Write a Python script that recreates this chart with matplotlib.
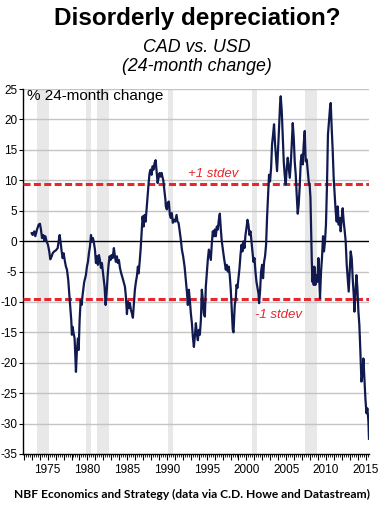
import matplotlib
matplotlib.use("Agg")
import matplotlib.pyplot as plt
from matplotlib.ticker import MultipleLocator, FuncFormatter

plt.rcParams['axes.unicode_minus'] = False

# ---- data ----
years = [
    1972.99, 1973.12, 1973.32, 1973.45, 1973.66, 1973.87, 1974.03, 1974.16, 1974.29, 1974.45,
    1974.58, 1974.70, 1974.88, 1975.04, 1975.20, 1975.33, 1975.51, 1975.63, 1975.83, 1976.05,
    1976.26, 1976.38, 1976.51, 1976.64, 1976.76, 1976.89, 1977.01, 1977.18, 1977.30, 1977.43,
    1977.59, 1977.71, 1977.84, 1977.97, 1978.05, 1978.14, 1978.27, 1978.39, 1978.56, 1978.68,
    1978.81, 1978.90, 1979.02, 1979.15, 1979.27, 1979.40, 1979.60, 1979.81, 1979.94, 1980.07,
    1980.19, 1980.32, 1980.45, 1980.57, 1980.70,
    1980.82, 1980.95, 1981.07, 1981.20, 1981.32, 1981.45, 1981.57, 1981.70, 1981.82, 1981.99,
    1982.16, 1982.29, 1982.41, 1982.54, 1982.66, 1982.79, 1982.92, 1983.04, 1983.17, 1983.33,
    1983.46, 1983.58, 1983.71, 1983.83, 1983.96, 1984.09, 1984.25, 1984.43, 1984.59, 1984.72,
    1984.84, 1984.97, 1985.09, 1985.22, 1985.34, 1985.47, 1985.60, 1985.72, 1985.85, 1985.97,
    1986.10, 1986.22, 1986.35, 1986.44, 1986.56, 1986.69, 1986.81, 1986.94, 1987.07, 1987.19,
    1987.32, 1987.44, 1987.57, 1987.70, 1987.82, 1987.95, 1988.07, 1988.20, 1988.32, 1988.45,
    1988.58, 1988.70, 1988.83, 1988.95, 1989.08, 1989.20, 1989.33, 1989.46, 1989.53, 1989.71,
    1989.81,
    1989.86, 1989.99, 1990.11, 1990.24, 1990.37, 1990.49, 1990.62, 1990.74, 1990.87, 1991.03,
    1991.21, 1991.33, 1991.46, 1991.58, 1991.75, 1991.88, 1992.04, 1992.22, 1992.38, 1992.51,
    1992.63, 1992.76, 1992.88, 1993.01, 1993.14, 1993.26, 1993.39, 1993.51, 1993.64, 1993.76,
    1993.89, 1994.01, 1994.14, 1994.27, 1994.39, 1994.52, 1994.64, 1994.77, 1994.89, 1995.02,
    1995.14, 1995.27, 1995.40, 1995.52, 1995.65, 1995.77, 1995.90, 1996.02, 1996.15, 1996.27,
    1996.40, 1996.53, 1996.65, 1996.78, 1996.90, 1997.03, 1997.15, 1997.28, 1997.40, 1997.53,
    1997.66, 1997.78, 1997.91, 1998.03, 1998.16, 1998.28, 1998.37,
    1998.53, 1998.66, 1998.75, 1998.87, 1999.00, 1999.13, 1999.25, 1999.38, 1999.50, 1999.63,
    1999.75, 1999.88, 2000.00, 2000.13, 2000.25, 2000.38, 2000.51, 2000.63, 2000.76, 2000.88,
    2001.01, 2001.13, 2001.26, 2001.39, 2001.51, 2001.59, 2001.71, 2001.84, 2001.97, 2002.09,
    2002.22, 2002.34, 2002.47, 2002.59, 2002.72, 2002.84, 2002.97, 2003.10, 2003.22, 2003.35,
    2003.47, 2003.60, 2003.72, 2003.85, 2003.97, 2004.10, 2004.23, 2004.31, 2004.44, 2004.56,
    2004.69, 2004.81, 2004.94, 2005.07, 2005.19, 2005.32, 2005.45, 2005.57, 2005.70, 2005.82,
    2005.95, 2006.07, 2006.20, 2006.32,
    2006.45, 2006.57, 2006.70, 2006.83, 2006.95, 2007.08, 2007.20, 2007.33, 2007.45, 2007.58,
    2007.71, 2007.83, 2007.96, 2008.05, 2008.12, 2008.21, 2008.29, 2008.37, 2008.46, 2008.54,
    2008.67, 2008.80, 2008.92, 2009.05, 2009.17, 2009.25, 2009.38, 2009.50, 2009.63, 2009.75,
    2009.88, 2010.00, 2010.13, 2010.25, 2010.38, 2010.51, 2010.60, 2010.72, 2010.85, 2010.97,
    2011.10, 2011.22, 2011.35, 2011.48, 2011.60, 2011.73, 2011.85, 2011.98, 2012.10, 2012.23,
    2012.36, 2012.48, 2012.61, 2012.73, 2012.86, 2012.99, 2013.11, 2013.24, 2013.36, 2013.49,
    2013.58, 2013.70, 2013.83, 2013.95, 2014.08, 2014.20, 2014.33, 2014.46, 2014.58, 2014.71,
    2014.83, 2014.96, 2015.09, 2015.21, 2015.34, 2015.41,
]
change = [
    1.3, 1.0, 1.6, 0.8, 1.9, 2.7, 2.85, 1.9, 0.5, 1.0,
    0.1, 0.8, -0.1, -0.6, -1.7, -3.0, -2.5, -2.0, -1.7, -1.5,
    -1.15, -0.05, 1.0, -0.3, -1.7, -2.8, -2.0, -3.4, -4.2, -4.7,
    -6.4, -8.6, -10.8, -13.0, -15.4, -14.1, -15.2, -16.0, -21.5, -17.9,
    -16.0, -17.9, -13.0, -9.7, -10.5, -8.8, -6.7, -5.6, -4.2, -3.4,
    -2.0, -0.9, 1.0, -0.1, 0.5,
    -0.3, -1.4, -3.6, -2.5, -3.9, -2.3, -3.1, -4.4, -3.6, -5.6,
    -7.5, -10.5, -8.6, -5.8, -3.9, -2.5, -3.1, -2.3, -2.8, -1.15,
    -2.5, -3.4, -2.5, -3.6, -3.1, -4.4, -5.3, -6.1, -6.9, -7.5,
    -9.1, -12.0, -9.95, -11.0, -10.2, -11.3, -11.9, -12.6, -10.2, -8.0,
    -6.7, -5.8, -4.2, -5.3, -3.6, -1.4, 1.3, 4.05, 2.4, 4.3,
    3.2, 5.2, 7.35, 9.55, 11.2, 11.75, 10.9, 12.3, 11.75, 12.85,
    13.3, 11.5, 9.55, 10.4, 11.2, 10.6, 11.2, 10.4, 10.1, 8.0,
    6.8,
    5.7, 5.2, 6.3, 6.5, 4.3, 3.8, 4.6, 3.0, 3.5, 3.2,
    4.3, 3.2, 3.0, 1.9, 0.2, -1.4, -2.5, -4.2, -6.4, -8.3,
    -10.5, -8.0, -9.7, -11.9, -13.5, -15.7, -17.4, -15.7, -13.5, -15.2,
    -16.3, -14.6, -15.4, -13.0, -8.0, -9.7, -11.9, -12.4, -7.5, -5.3,
    -3.1, -1.4, -2.3, -3.1, -0.3, 1.6, 0.8, 1.9, 0.8, 2.4,
    1.9, 3.5, 4.5, 1.9, -0.05, -1.4, -2.5, -3.6, -4.7, -3.9,
    -5.0, -4.2, -5.8, -8.0, -11.3, -14.6, -15.0,
    -10.5, -9.4, -7.2, -7.7, -6.1, -4.4, -2.3, -0.6, -1.7, -0.05,
    -1.15, 1.0, 2.1, 3.5, 2.7, 1.0, 1.6, -0.05, -1.7, -3.4,
    -2.8, -5.0, -6.7, -7.7, -8.6, -10.2, -8.3, -5.0, -3.9, -6.1,
    -3.4, -2.5, -0.6, 3.8, 7.6, 10.9, 9.8, 12.0, 15.9, 17.5,
    19.2, 15.9, 13.7, 11.5, 14.8, 18.6, 22.5, 23.8, 21.4, 17.5,
    13.1, 10.9, 9.3, 12.0, 13.7, 12.0, 10.4, 12.6, 15.9, 19.4,
    17.0, 13.1, 10.9, 7.6,
    4.5, 6.0, 9.0, 13.1, 14.2, 12.6, 15.9, 18.1, 13.1, 13.4,
    11.5, 9.8, 9.0, 7.1, 2.7, -2.8, -6.7, -5.0, -7.2, -4.2,
    -7.2, -5.6, -6.7, -2.8, -6.7, -9.4, -5.0, -2.8, 0.8, -1.7,
    -0.05, 2.7, 9.3, 17.5, 19.7, 21.9, 22.7, 18.6, 14.8, 10.4,
    7.6, 4.9, 3.2, 5.7, 2.7, 3.8, 1.6, 3.8, 5.4, 3.2,
    1.6, -0.05, -3.9, -6.1, -8.3, -5.0, -1.7, -2.8, -6.1, -8.8,
    -11.6, -8.8, -5.6, -7.7, -11.6, -13.8, -18.2, -23.1, -22.0, -19.3,
    -22.6, -25.9, -28.3, -27.5, -29.7, -32.5,
]
recession_start = [1973.62, 1979.81, 1981.20, 1990.15, 2000.67, 2007.33]
recession_end = [1975.17, 1980.44, 1982.70, 1990.78, 2001.39, 2008.92]
stdev_upper = 9.35
stdev_lower = -9.45
stdev_labels = ["+1 stdev", "-1 stdev"]

title = "Disorderly depreciation?"
subtitle = ["CAD vs. USD", "(24-month change)"]
unit_label = "% 24-month change"
source = "NBF Economics and Strategy (data via C.D. Howe and Datastream)"

# ---- figure ----
W, H = 388, 515
fig = plt.figure(figsize=(W / 100, H / 100), dpi=100)
fig.patch.set_facecolor("white")


def fx(px):
    return px / W


def fy(py):
    return 1 - py / H


ax = fig.add_axes([fx(23), fy(454), fx(369.3) - fx(23), fy(89) - fy(454)])
ax.set_xlim(1971.9, 2015.45)
ax.set_ylim(-35, 25)

for s, e in zip(recession_start, recession_end):
    ax.axvspan(s, e, color="#e8e8e8", lw=0, zorder=0)

for yv in range(-30, 26, 5):
    if yv != 0:
        ax.axhline(yv, color="#c4c4c4", lw=1.0, zorder=1)
ax.axhline(0, color="black", lw=1.0, zorder=2)

red = "#e8262d"
ax.axhline(stdev_upper, color=red, lw=2.2, ls=(0, (2.3, 1.1)), zorder=3)
ax.axhline(stdev_lower, color=red, lw=2.2, ls=(0, (2.3, 1.1)), zorder=3)

ax.plot(years, change, color="#111a4f", lw=1.6, zorder=4, solid_joinstyle="round")

for sp in ["top", "right"]:
    ax.spines[sp].set_visible(False)
for sp in ["left", "bottom"]:
    ax.spines[sp].set_color("black")
    ax.spines[sp].set_linewidth(1.0)

tickfont = ["Liberation Sans Narrow", "Liberation Sans", "DejaVu Sans"]
ax.yaxis.set_major_locator(MultipleLocator(5))
ax.xaxis.set_major_locator(MultipleLocator(1))
ax.xaxis.set_minor_locator(MultipleLocator(0.25))
ax.xaxis.set_major_formatter(FuncFormatter(lambda v, p: f"{int(round(v))}" if int(round(v)) % 5 == 0 else ""))
ax.tick_params(axis="y", direction="out", length=3, width=0.8, pad=1, labelsize=8.5)
ax.tick_params(axis="x", which="major", direction="out", length=4, width=0.8, pad=3, labelsize=8.5)
ax.tick_params(axis="x", which="minor", direction="out", length=2.5, width=0.6)
for lab in ax.get_xticklabels() + ax.get_yticklabels():
    lab.set_family(tickfont)

# ---- texts ----
fig.text(fx(197), fy(25), title, ha="center", va="baseline", fontsize=17.5,
         fontweight="bold", family=["Liberation Sans", "DejaVu Sans"])
fig.text(fx(197), fy(52), subtitle[0], ha="center", va="baseline", fontsize=12.8,
         style="italic", family=["Liberation Sans", "DejaVu Sans"])
fig.text(fx(197), fy(71), subtitle[1], ha="center", va="baseline", fontsize=12.8,
         style="italic", family=["Liberation Sans", "DejaVu Sans"])
fig.text(fx(27), fy(100), unit_label, ha="left", va="baseline", fontsize=11,
         family=["Liberation Sans", "DejaVu Sans"])
fig.text(fx(188), fy(177.3), stdev_labels[0], ha="left", va="baseline", fontsize=9.5,
         style="italic", color=red, family=["Liberation Sans", "DejaVu Sans"])
fig.text(fx(255), fy(317.7), stdev_labels[1], ha="left", va="baseline", fontsize=9.5,
         style="italic", color=red, family=["Liberation Sans", "DejaVu Sans"])
fig.text(fx(192), fy(498), source, ha="center", va="baseline", fontsize=8.65,
         fontweight="bold", family=["Lato", "DejaVu Sans"])

fig.savefig("out.png", dpi=100, facecolor="white")
